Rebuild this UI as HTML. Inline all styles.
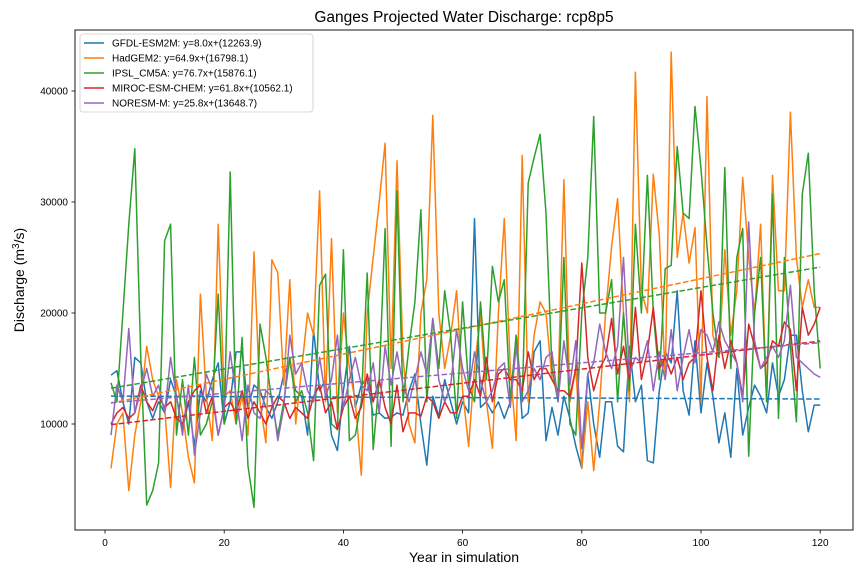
<!DOCTYPE html>
<html><head><meta charset="utf-8"><style>
body{margin:0;background:#fff}
svg{display:block;font-family:"Liberation Sans","DejaVu Sans",sans-serif}
</style></head><body>
<svg id="chart" width="864" height="576">
<rect x="0" y="0" width="864" height="576" fill="#fff"/>
<text x="464" y="22" text-anchor="middle" font-size="15.5">Ganges Projected Water Discharge: rcp8p5</text>
<g id="marks"></g>
<rect x="75" y="30" width="778" height="500" fill="none" stroke="#000" stroke-width="0.9"/>
<g id="axes" font-size="10"></g>
<text x="464" y="562" text-anchor="middle" font-size="14">Year in simulation</text>
<text transform="translate(24,280) rotate(-90)" text-anchor="middle" font-size="14">Discharge (m<tspan font-size="10" dy="-5">3</tspan><tspan dy="5">/s)</tspan></text>
<g id="legend" font-size="10"></g>
</svg>
<script>
const seriesNames=["GFDL-ESM2M","HadGEM2","IPSL_CM5A","MIROC-ESM-CHEM","NORESM-M"];
const seriesColors=["#1f77b4","#ff7f0e","#2ca02c","#d62728","#9467bd"];
const slopes=[8.0,64.9,76.7,61.8,25.8];
const intercepts=[12263.9,16798.1,15876.1,10562.1,13648.7];
const xTicks=[0,20,40,60,80,100,120];
const yTicks=[10000,20000,30000,40000];
const gfdl=[14400,14800,12000,10000,16000,15500,12000,10500,12000,11000,14000,12500,9500,12000,8000,13000,12000,14000,15500,10000,12000,16500,16500,11500,13500,13000,11500,10500,12000,14500,15500,13000,12500,9000,18500,13000,14000,9000,7600,13000,17000,11500,13500,14000,10800,11000,10500,10600,11000,10800,13000,14500,10000,6300,12500,10700,14000,12000,10000,12000,11000,28500,11500,12000,11000,12000,10500,12000,18000,10500,11000,16500,17500,8500,11500,9000,12500,10500,8000,6000,14500,10000,7000,12000,12000,8000,7500,17000,12000,13500,6700,6500,13000,16500,15500,22000,13000,10800,17500,11000,15500,12500,8300,11000,7000,15000,9000,11500,13500,12500,11000,15500,12500,14000,18000,18000,13000,9300,11700,11700];
const hadgem=[6000,10000,11000,4000,9000,12000,17000,14000,12500,11500,4300,14000,11000,7000,4700,21700,12500,8500,28000,12500,13000,10000,12500,9000,25500,12000,8300,24800,23600,13500,23000,10000,15000,20000,18000,31000,12000,26700,11000,20000,15000,12000,5400,20000,25000,30000,35300,15000,33700,16000,10000,8300,20000,23000,37800,20000,15000,18000,22000,13000,8000,15000,20000,12000,7800,20000,28500,15000,8500,34200,12000,18000,21000,20000,14000,13000,32000,12000,15000,6000,12000,5800,12000,20000,26000,30300,20000,12000,41700,22000,20000,32500,27000,14000,43500,25000,29000,24500,27700,12000,39500,18000,16000,25700,18000,22000,32200,25000,20000,28000,12000,32400,22000,22000,38100,25000,20500,23000,20500,20500];
const ipsl=[13700,12000,20000,28000,34800,16000,2700,4000,6500,26500,28000,9000,14000,9000,16000,9000,10000,12000,21700,10000,32700,10000,17800,6200,2500,19000,16000,12000,9000,12000,16000,12000,13000,11000,6700,22500,23500,10000,9500,25700,8500,9000,12000,23600,7700,14000,27600,8000,31000,12000,17000,21000,29300,12000,19500,15000,22000,18000,10500,21000,13500,12000,21000,14000,24200,21000,23000,12000,18000,12000,31700,34000,36100,29000,15000,12000,25000,10000,9000,20000,25000,37700,20000,20000,23000,12000,20000,13000,28000,20000,32400,20000,14000,24000,24300,35000,29000,28500,38600,33000,26000,20000,16000,33100,15000,25000,27600,7100,20000,25000,12000,30700,10500,25000,17000,10200,30700,34400,22000,15000];
const miroc=[10000,11000,11500,10500,11000,13500,12000,11200,12500,11500,12000,10500,10000,12000,13000,13500,11000,12500,9000,11500,12000,11000,13000,10500,12000,11000,10000,11500,12500,12000,10500,11500,11000,10500,12500,13500,11000,12000,9500,11500,12500,10500,11500,14500,12000,14000,11500,10000,13500,9300,11000,11000,10700,12500,12000,10500,12000,11000,11000,12500,12500,14000,12500,16000,12000,14500,15000,14000,14000,13000,16500,14000,15000,15000,14000,13000,13000,12500,15000,24500,16000,13000,15000,16000,19500,14500,17000,14000,20500,14000,16500,20500,15000,16000,14500,16000,14000,15500,16000,22000,16000,13000,18000,15000,17500,15500,12500,19000,17000,15000,15500,17500,17000,19200,18500,13000,20500,18000,19000,20500];
const noresm=[9000,13500,12000,18600,11000,13000,15000,12500,13500,11000,16000,12500,9000,13500,7200,11000,14500,13000,9000,11500,16500,12500,8500,13500,11000,10500,13000,12500,8500,11500,18000,14500,15500,13000,12000,16000,12500,14000,18000,11500,14000,16000,13500,13000,15500,11000,17000,13500,16500,13500,12000,14000,16500,14500,19500,14000,12000,13500,18500,15000,13000,16500,14000,12000,13000,15000,15500,11500,17000,12000,13000,15000,14000,16000,16500,12000,17500,13500,17500,7800,14500,15500,19000,16500,15000,17000,25000,14500,16000,15500,17500,13000,16500,14000,18500,13000,16000,18500,15500,18500,18000,16500,19200,17500,16500,15500,12000,28200,17500,15000,16000,17000,16000,17500,22500,16000,15500,15000,14500,14200];
const allSeries=[gfdl,hadgem,ipsl,miroc,noresm];
const NS="http://www.w3.org/2000/svg";
function xs(v){return 105+v*5.96;}
function ys(v){return 535-v*0.0111;}
function mk(tag,attrs,parent){const e=document.createElementNS(NS,tag);for(const k in attrs)e.setAttribute(k,attrs[k]);parent.appendChild(e);return e;}
function fit(s){const n=s.length;let sx=0,sy=0,sxx=0,sxy=0;s.forEach((v,i)=>{const x=i+1;sx+=x;sy+=v;sxx+=x*x;sxy+=x*v;});const m=(n*sxy-sx*sy)/(n*sxx-sx*sx);return [m,(sy-m*sx)/n];}
const marks=document.getElementById('marks'),axes=document.getElementById('axes'),leg=document.getElementById('legend');
allSeries.forEach((s,si)=>{
  const p=s.map((v,i)=>(i?'L':'M')+xs(i+1).toFixed(1)+','+ys(v).toFixed(1)).join('');
  const line=mk('path',{d:p,fill:'none',stroke:seriesColors[si],'stroke-width':1.5,'stroke-linejoin':'round'},marks);
  
  
});
allSeries.forEach((s,si)=>{
  const n=s.length,f=fit(s),y1=f[0]*1+f[1],y2=f[0]*n+f[1];
  const t=mk('line',{x1:xs(1),y1:ys(y1),x2:xs(n),y2:ys(y2),stroke:seriesColors[si],'stroke-width':1.5,'stroke-dasharray':'5.5,2.4'},marks);
  
  
});
xTicks.forEach(v=>{
  const tk=mk('line',{x1:xs(v),x2:xs(v),y1:530,y2:533.5,stroke:'#000','stroke-width':0.8},axes);
  
  
  const tl=mk('text',{x:xs(v),y:546,'text-anchor':'middle'},axes);tl.textContent=v;
  
  
});
yTicks.forEach(v=>{
  const tk=mk('line',{x1:71.5,x2:75,y1:ys(v),y2:ys(v),stroke:'#000','stroke-width':0.8},axes);
  
  
  const tl=mk('text',{x:68,y:ys(v)+3.5,'text-anchor':'end'},axes);tl.textContent=v;
  
  
});
const box=mk('rect',{x:80,y:34,width:233,height:78,rx:3,fill:'#fff','fill-opacity':0.8,stroke:'#ccc','stroke-width':0.8},leg);


seriesNames.forEach((n,i)=>{
  const y=43+i*15;
  const g=mk('g',{},leg);
  
  
  mk('line',{x1:84,x2:104,y1:y,y2:y,stroke:seriesColors[i],'stroke-width':1.5},g);
  const t=mk('text',{x:112,y:y+3.5},g);
  t.textContent=n+': y='+slopes[i].toFixed(1)+'x+('+intercepts[i].toFixed(1)+')';
});
</script>
</body></html>
